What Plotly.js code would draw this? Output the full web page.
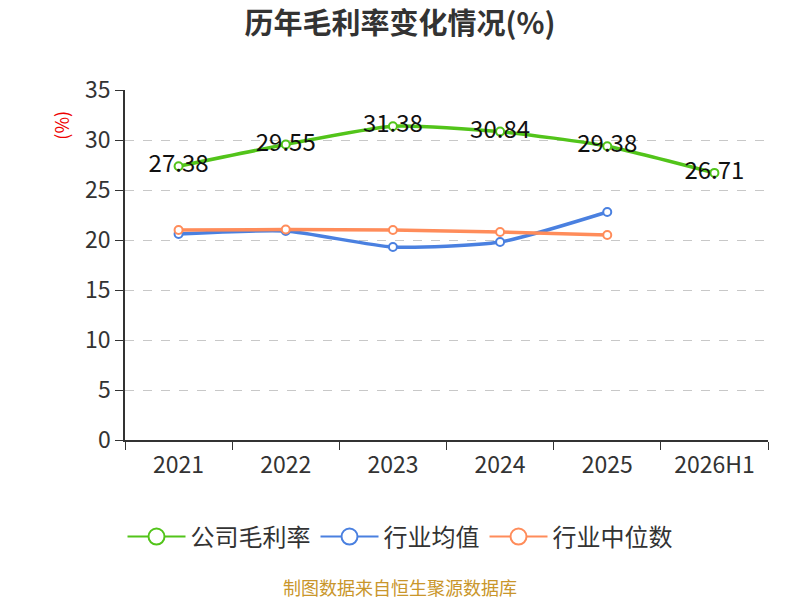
<!DOCTYPE html>
<html>
<head>
<meta charset="utf-8">
<script src="https://cdn.plot.ly/plotly-3.0.1.min.js"></script>
<style>
  body { margin: 0; background: #fff; }
  #chart { width: 800px; height: 600px; }
</style>
</head>
<body>
<div id="chart"></div>
<script>
var years = ['2021', '2022', '2023', '2024', '2025', '2026H1'];
var gongsi = [27.38, 29.55, 31.38, 30.84, 29.38, 26.71];
var junzhi = [20.6, 20.9, 19.3, 19.8, 22.8];
var zhongwei = [21.0, 21.05, 21.0, 20.8, 20.5];
var yTicks = [0, 5, 10, 15, 20, 25, 30, 35];

var font = '"Noto Sans CJK SC", "Noto Sans", sans-serif';

function serie(name, x, y, color, withText) {
  var t = {
    type: 'scatter',
    mode: withText ? 'lines+markers+text' : 'lines+markers',
    name: name,
    x: x,
    y: y,
    showlegend: false,
    line: { color: color, width: 3.5, shape: 'spline', smoothing: 0.6 },
    marker: { symbol: 'circle', size: 8, color: '#fff', line: { color: color, width: 2 } },
    cliponaxis: false
  };
  if (withText) {
    t.text = y.map(function (v) { return v.toFixed(2); });
    t.textposition = 'middle center';
    t.textfont = { family: font, size: 24, color: '#111' };
  }
  return t;
}

// legend-only entries with a bigger circle, like the reference
function legendEntry(name, color) {
  return {
    type: 'scatter', mode: 'lines+markers', name: name,
    x: [null], y: [null],
    line: { color: color, width: 2 },
    marker: { symbol: 'circle', size: 18, color: '#fff', line: { color: color, width: 2 } }
  };
}

var data = [
  serie('公司毛利率', years, gongsi, '#52C41A', true),
  serie('行业均值', years.slice(0, 5), junzhi, '#4A80E0', false),
  serie('行业中位数', years.slice(0, 5), zhongwei, '#FF8C5A', false),
  legendEntry('公司毛利率', '#52C41A'),
  legendEntry('行业均值', '#4A80E0'),
  legendEntry('行业中位数', '#FF8C5A')
];

var layout = {
  width: 800,
  height: 600,
  margin: { l: 125, r: 32, t: 90, b: 160 },
  paper_bgcolor: '#fff',
  plot_bgcolor: '#fff',
  font: { family: font, color: '#333' },
  title: {
    text: '<b>历年毛利率变化情况(%)</b>',
    font: { family: font, size: 29, color: '#333' },
    x: 0.5, xanchor: 'center', y: 0.96, yanchor: 'middle'
  },
  xaxis: {
    type: 'category',
    range: [-0.5, 5.5],
    showline: true, linecolor: '#333', linewidth: 1.5,
    ticks: 'outside', tickson: 'boundaries', ticklen: 8, tickcolor: '#333',
    ticklabelstandoff: 4,
    tickfont: { family: font, size: 23, color: '#333' },
    showgrid: false, zeroline: false
  },
  yaxis: {
    range: [0, 35],
    tickvals: yTicks,
    showline: true, linecolor: '#333', linewidth: 1.5,
    ticks: 'outside', ticklen: 8, tickcolor: '#333',
    tickfont: { family: font, size: 23, color: '#333' },
    showgrid: true, gridcolor: '#c8c8c8', griddash: 'dash', gridwidth: 1,
    zeroline: false
  },
  showlegend: true,
  legend: {
    orientation: 'h',
    x: 0.4277, xanchor: 'center',
    y: -0.277, yanchor: 'middle',
    font: { family: font, size: 24, color: '#333' },
    itemwidth: 58,
    itemsizing: 'trace'
  },
  annotations: [
    {
      text: '(%)', textangle: -90,
      xref: 'paper', yref: 'paper', x: -0.1, y: 0.9,
      xanchor: 'center', yanchor: 'middle',
      showarrow: false,
      font: { family: font, size: 18, color: '#e00' }
    },
    {
      text: '制图数据来自恒生聚源数据库',
      xref: 'paper', yref: 'paper', x: 0.4277, y: -0.42,
      xanchor: 'center', yanchor: 'middle',
      showarrow: false,
      font: { family: font, size: 18, color: '#C9962B' }
    }
  ]
};

Plotly.newPlot('chart', data, layout, { displayModeBar: false });
</script>
</body>
</html>
